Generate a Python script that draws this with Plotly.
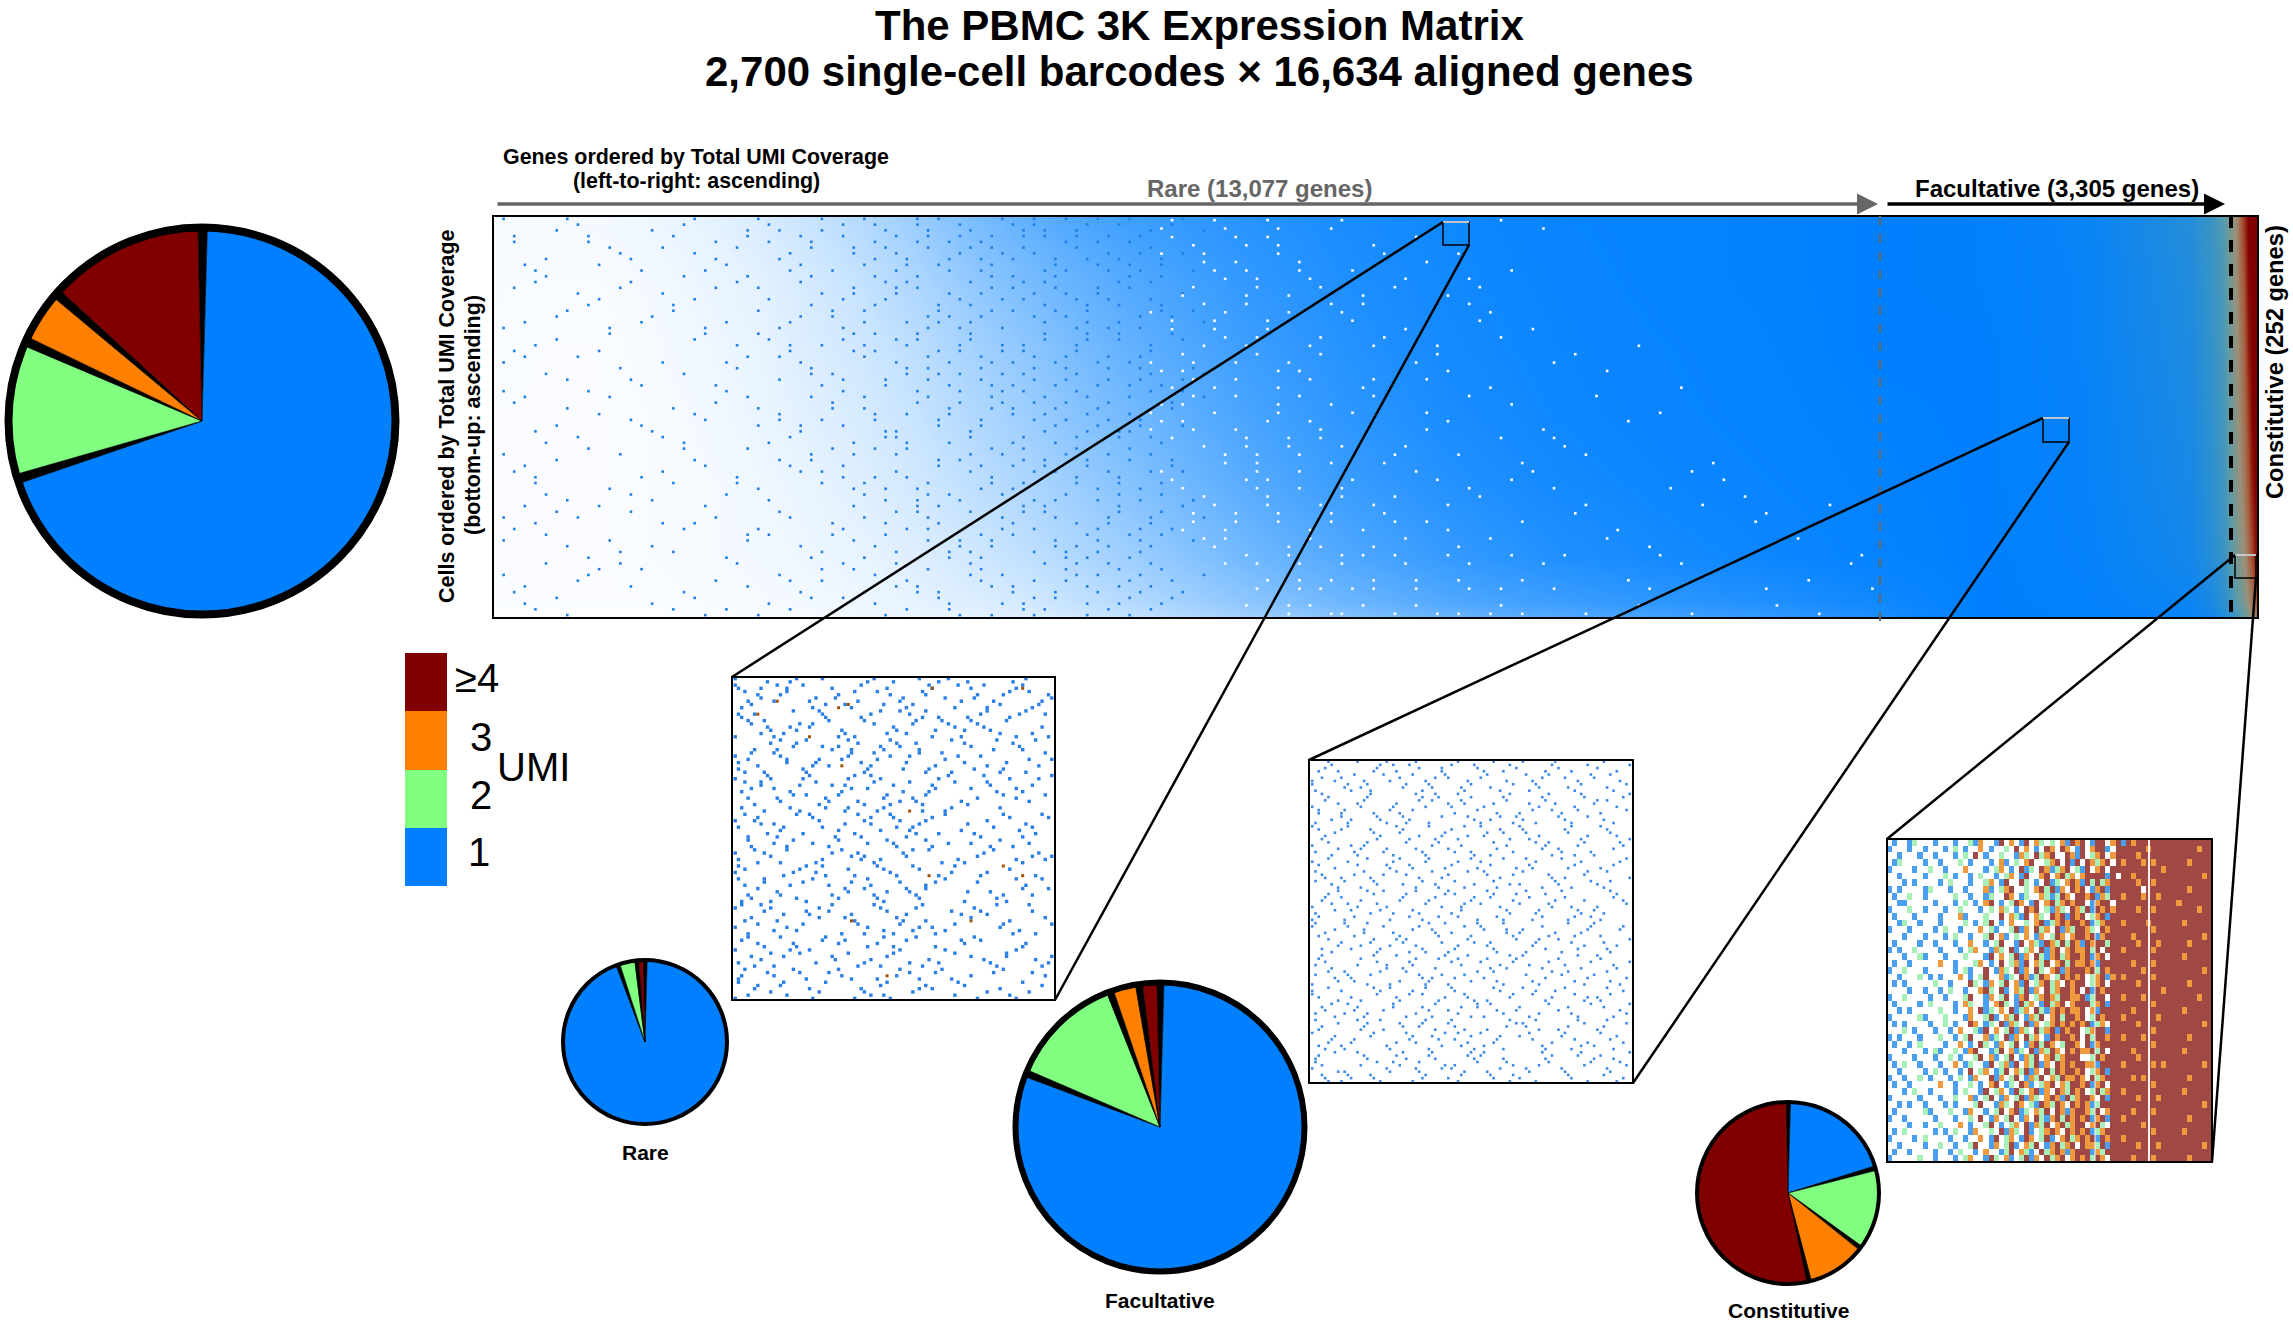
import plotly.graph_objects as go

W, H = 2293, 1325
BLUE, GREEN, ORANGE, RED = "#0080ff", "#80ff80", "#ff8000", "#800000"
UMI_COLORS = [BLUE, GREEN, ORANGE, RED]

# ---------- values ----------
umi_levels = ["1", "2", "3", "≥4"]
all_share = [0.692, 0.108, 0.039, 0.128]
rare_share = [0.950, 0.030, 0.0, 0.009]
facultative_share = [0.801, 0.125, 0.025, 0.016]
constitutive_share = [0.197, 0.139, 0.101, 0.528]
slice_gap = 0.0078

# main matrix: estimated mean colour level per coarse cell (0 empty, 1 all "1 UMI", 3 all "≥4")
gene_rank = [0, 500, 1000, 1500, 2000, 2500, 3000, 3500, 4000, 4500, 5000, 5500, 6000, 6500,
             7000, 7500, 8000, 9000, 10000, 11000, 12000, 13000,
             14000, 15000, 16000, 16200, 16300, 16380, 16440, 16500, 16540, 16580, 16610, 16634]
cell_rank = [0, 100, 400, 900, 1350, 1800, 2300, 2700]
row_0 = [.01, .01, .01, .01, .02, .03, .04, .06, .08, .10, .13, .18, .23, .29, .35, .41, .47, .58, .66, .73, .79, .88,
         1, 1.01, 1.05, 1.12, 1.2, 1.3, 1.45, 1.6, 1.8, 2, 2.1, 2.2]
row_100 = [.02, .02, .02, .02, .03, .04, .05, .07, .10, .13, .17, .23, .29, .36, .43, .50, .57, .68, .76, .82, .87, .93,
           1, 1.02, 1.08, 1.18, 1.28, 1.42, 1.6, 1.8, 2, 2.2, 2.4, 2.6]
row_400 = [.02, .02, .02, .03, .04, .05, .07, .09, .13, .18, .24, .31, .38, .46, .54, .61, .68, .79, .87, .92, .95, .98,
           1, 1.03, 1.13, 1.26, 1.38, 1.58, 1.8, 2, 2.25, 2.55, 2.85, 3]
row_900 = [.02, .02, .02, .03, .04, .06, .09, .13, .18, .25, .32, .40, .48, .56, .64, .71, .77, .86, .92, .95, .97, .99,
           1, 1.04, 1.16, 1.3, 1.42, 1.65, 1.88, 2.15, 2.45, 2.85, 3, 3]
row_1350 = [.02, .02, .02, .03, .05, .08, .12, .16, .22, .30, .38, .47, .55, .63, .70, .76, .82, .90, .94, .965, .98, .995,
            1, 1.04, 1.18, 1.32, 1.45, 1.7, 1.95, 2.25, 2.6, 3, 3, 3]
row_1800 = [.03, .02, .02, .04, .06, .09, .14, .19, .26, .35, .44, .53, .61, .68, .75, .80, .85, .92, .95, .97, .985, 1,
            1, 1.05, 1.2, 1.35, 1.48, 1.75, 2, 2.35, 2.8, 3, 3, 3]
row_2300 = [.03, .03, .03, .05, .08, .11, .17, .24, .33, .43, .53, .61, .68, .74, .80, .84, .88, .93, .96, .98, .99, 1,
            1.01, 1.05, 1.22, 1.38, 1.5, 1.8, 2.05, 2.5, 2.95, 3, 3, 3]
row_2700 = [.04, .04, .05, .07, .10, .15, .22, .30, .40, .52, .62, .70, .76, .80, .84, .87, .90, .94, .97, .98, .99, 1,
            1.01, 1.06, 1.25, 1.4, 1.55, 1.85, 2.1, 2.7, 3, 3, 3, 3]
matrix_levels = [row_0, row_100, row_400, row_900, row_1350, row_1800, row_2300, row_2700]

# NOTE: the dot lists below are hand-typed TEXTURE that follows the density seen in the picture.
# They are far fewer than the real marks and are not dot-accurate positions.
# One list per raster row, top to bottom; x in hundreds of gene ranks.
sparse_rows = [
 [2,9,17,24,29,33,38,41,44,47,50,52,55,58,61,64],[5,13,21,27,36,39,43,46,49,53,56,59,63],[1,7,19,25,31,35,40,42,48,51,54,57,60,65],
 [11,16,23,30,34,37,41,45,47,50,55,62],[4,14,20,28,32,38,43,46,52,54,58,61,66],[8,18,26,33,36,40,44,49,51,56,59,64],
 [3,10,22,29,35,39,42,47,53,57,60,63],[6,15,24,27,31,37,41,45,50,52,55,62,67],[12,19,28,34,38,44,48,51,58,61,65],
 [2,9,21,26,30,36,40,43,46,54,57,60],[7,17,25,32,35,42,47,49,53,56,63,66],[4,13,23,29,37,39,45,50,52,59,62],
 [1,11,20,27,33,41,44,48,55,58,61,64],[8,16,31,34,38,43,46,51,54,57,65],[5,18,24,30,36,40,47,49,53,60,63],
 [3,14,22,28,35,39,42,45,52,56,59,67],[10,19,26,33,37,44,48,50,55,58,62],[6,15,29,32,41,43,46,51,54,61,64],
 [2,12,21,25,34,38,40,47,49,53,57,60,66],[9,17,30,36,42,45,52,56,59,63],[4,23,28,31,35,39,44,48,50,55,62],
 [7,13,27,33,37,41,46,51,54,58,61,65],[1,16,22,29,38,43,47,49,53,57,60],[11,20,25,34,36,40,45,52,56,59,64],
 [5,18,30,32,39,42,44,48,50,55,62,67],[3,8,24,27,35,41,46,51,54,58,61],[14,21,31,37,43,47,49,53,57,60,63],
 [6,19,26,33,38,40,45,52,56,59,65],[2,10,28,34,36,42,44,48,50,55,62],[12,23,30,39,41,46,51,54,58,61,66],
 [7,17,25,32,35,43,47,49,53,57,64],[4,15,29,37,38,45,52,56,59,60],[1,9,22,33,40,44,48,50,55,62,65],
 [13,20,27,31,36,42,46,51,54,58,61],[5,18,26,34,39,43,49,53,57,63],[3,11,24,30,35,41,47,52,56,60,67],
 [8,16,28,37,38,45,50,55,59,62],[2,21,32,40,44,48,51,54,58,64],[6,14,25,29,33,42,46,53,57,61,65],
 [10,19,27,36,39,43,49,52,56,60],[4,17,23,31,35,41,47,50,55,59,63],[1,12,30,34,38,45,48,54,58,62],
 [7,15,26,37,40,44,51,53,57,61,66],[3,20,28,33,42,46,49,52,56,64],[9,18,24,32,36,39,47,50,55,60],
 [5,13,22,35,41,43,48,54,59,63],[2,16,29,31,38,45,51,53,58,62,65],[11,25,34,37,40,46,49,57,61],
 [6,19,27,30,42,44,50,52,56,60,64],[4,14,23,33,36,39,47,55,59],[1,8,21,28,35,41,48,53,58,62,67],
 [12,17,31,38,43,45,51,54,57,61],[5,24,26,32,37,46,49,56,60,63],[3,10,20,34,40,42,50,52,59,65],
 [7,15,29,36,44,47,53,55,58,62],[2,18,25,33,39,41,48,51,57,61,64],[9,22,30,35,43,46,54,56,60],
 [6,13,27,38,40,45,50,52,59,63],[4,16,19,32,37,42,49,55,58,62],[1,11,24,34,41,44,47,53,57,61,66],
 [8,21,28,31,39,46,51,54,60,64],[3,15,26,36,43,48,50,56,59,63],[5,12,23,33,38,45,52,55,58,62],
 [2,18,29,35,40,42,49,53,57,61,65],[7,20,25,37,44,47,51,56,60],[10,14,31,34,41,46,54,59,63],
 [4,17,22,28,39,43,50,52,58,62],[1,9,27,36,45,48,55,57,61,67],[6,19,30,33,42,51,53,60,64],
 [3,13,24,38,40,47,49,56,59,62],
]
gap_rows = [
 [66,71,74,83],[69,72,77,86,92],[64,68,73,80,95],[67,70,76,88],[65,71,75,82,90],[63,69,74,79,99],[66,72,78,85,93],[64,70,73,87],
 [68,71,76,81,96],[63,67,74,84,91],[65,72,78,89,102],[62,69,75,80,94],[66,70,77,83,88],[64,68,73,86,98],[67,71,79,82,92],
 [63,65,74,76,90,105],[69,72,78,84,95],[62,66,70,75,87,100],[64,68,73,81,93],[67,71,77,83,89,108],[63,65,74,79,96],
 [69,72,76,85,91,103],[62,66,70,78,88,99],[64,68,74,82,94,112],[67,71,75,80,86,101],[63,65,73,77,90,107],[69,72,79,84,97,115],
 [66,70,76,83,92,104],[62,68,74,81,88,110],[64,71,75,78,95,100],[67,73,80,85,93,118],[65,69,77,82,90,106],[63,72,76,87,98,113],
 [66,70,74,79,84,102,120],[68,75,78,83,91,109],[64,71,73,81,89,96,116],[67,69,77,86,94,105,123],[65,72,76,80,92,100,111],
 [66,70,74,79,85,88,97,119],[68,73,78,83,90,103,114,126],[71,75,77,82,87,95,108,121],[69,72,76,80,86,92,99,112,128],
 [70,74,78,81,84,89,94,104,117],[73,76,79,83,87,91,97,107,124],[71,75,80,82,85,90,96,101,110,129],
 [74,77,79,84,86,88,93,98,106,115,127],[72,76,78,81,83,87,92,95,100,109,120,130],[75,79,80,85,89,91,94,97,103,113,125],
]

# inset textures (same caveat): one list per raster row, x in percent of the inset width
rare_rows = [
 [2,9,17,31,48,62,74,88],[5,13,24,39,52,71,81,96],[1,20,28,44,58,67,91],[8,15,33,49,60,76,84,98],[3,25,37,54,69,79,93],
 [11,18,42,50,64,73,87],[6,29,35,47,56,83,95],[1,14,22,40,61,70,78,90],[9,26,32,53,66,75,99],[4,17,38,45,59,86,92],
 [12,20,34,51,63,72,80],[2,7,28,43,55,77,89,97],[15,23,36,49,68,82,94],[5,10,30,41,57,65,74,85],[19,27,46,52,60,79,91],
 [1,13,33,38,62,71,88,98],[6,21,25,44,56,67,76],[9,16,35,48,54,83,93],[3,29,40,59,64,73,86],[11,18,24,50,69,78,96],
 [7,14,31,37,47,58,81,90],[2,22,42,53,61,75,84],[5,17,27,34,45,66,92,99],[12,20,39,51,57,72,87],[8,25,30,43,63,79,95],
 [1,15,36,49,55,70,77],[4,10,23,41,60,68,83,91],[19,28,33,46,52,74,89],[6,13,37,44,58,65,97],[2,17,26,40,54,72,85],
 [9,21,31,35,50,62,80,93],[5,14,29,47,56,76,88],[11,24,38,43,67,78,99],[3,18,34,53,61,82,90],[7,27,41,49,59,73],
 [1,12,22,36,46,64,86,95],[15,30,39,52,57,71,92],[4,9,26,44,55,69,79],[19,23,33,48,60,84,97],[6,13,37,42,63,74,88],
 [2,16,28,51,56,81,93],[10,21,35,45,59,66],[5,14,32,40,54,77,90],[8,25,43,50,62,86,98],[3,18,29,36,47,68,83],
 [11,22,38,57,64,75,94],[1,7,27,41,52,60,79],[15,33,46,55,71,89],[4,20,24,39,49,66,84,96],[9,13,35,43,58,73,91],
 [6,17,30,51,62,80,87],[2,23,28,45,56,69],[12,37,41,54,76,93,99],[5,19,33,48,60,83],[8,15,26,44,65,72,90],
 [1,10,31,39,53,78,95],[4,21,36,47,58,86],[13,25,42,50,67,74,92],[7,17,34,56,61,81],[2,28,40,46,70,88,97],
 [10,22,37,52,63,76],[5,15,31,44,57,84,93],[1,19,26,49,68,79],[8,35,41,54,60,90,98],[3,12,23,47,72,85],
 [16,29,38,51,64,77,94],[6,20,33,45,58,82],[2,10,25,42,66,88,96],[14,36,48,55,73,80],[4,18,30,43,60,91],
 [8,22,39,52,69,84,99],[1,12,27,46,57,75],[5,34,41,50,63,87,94],[16,24,37,54,71,79],[3,9,31,44,59,82,92],
 [13,20,47,56,66,89],[6,27,35,51,74,97],[1,17,42,58,62,83],[10,23,30,48,68,77,93],[4,14,38,53,60,86],
 [8,19,33,45,72,91],[2,26,41,55,64,80,98],[12,21,36,50,69,85],[5,15,29,47,57,75],[9,32,43,61,78,94],
 [1,18,24,52,66,88],[7,13,39,46,59,82,96],[3,28,35,54,71,77],[10,20,42,50,63,90],[6,16,31,48,74,85,99],
 [2,23,37,45,58,68],[12,27,41,56,79,92],[4,19,33,52,65,84],[8,15,46,60,72,96],[1,25,38,49,76,88],
 [11,21,30,55,63,81,93],[5,17,43,47,69,86],[3,13,34,51,74,97],[7,24,40,58,62,83],[2,16,29,48,70,90],
]
rare_other_rows = [[62,90],[14],[],[],[33],[],[36],[],[],[],[],[8],[],[],[],[24],[],[],[],[],[],[],[],[],[34],[],[],[],[],[],
 [],[],[],[],[],[],[],[],[],[],[],[55],[],[],[],[],[],[],[],[],[],[84],[],[],[],[],[],[],[],[],[],[],[],[],[],[61,90],[],[],[],[],
 [],[],[],[],[],[],[],[],[],[37,74],[],[],[],[],[],[],[],[],[],[],[],[],[],[],[],[],[],[48],[],[]]

facultative_rows = [
 [3,9,20,27,41,54,60,73,81,95],[1,12,18,30,37,50,63,70,84,98],[6,15,24,33,46,57,66,76,91],[4,10,28,39,43,53,72,79,88],
 [2,13,19,35,48,59,68,82,94],[7,22,26,31,44,51,62,75,86,99],[11,16,29,38,47,56,71,80,92],[5,21,34,41,52,64,77,89],
 [1,8,17,25,36,49,61,69,83,96],[14,23,32,42,55,67,74,87,93],[3,10,20,28,45,58,65,78,90],[6,18,35,40,50,60,72,85,97],
 [2,12,24,30,37,53,63,70,81,94],[9,15,27,43,48,57,68,76,88],[4,19,33,39,46,62,74,84,99],[7,13,22,31,51,56,66,79,91],
 [1,16,26,36,44,54,71,82,95],[10,21,29,41,49,59,64,77,86],[5,17,34,38,47,61,73,89,92],[3,11,25,32,52,69,75,83,98],
 [8,20,28,42,55,60,67,80,93],[2,14,23,35,45,50,63,78,87],[6,18,30,40,57,70,74,85,96],[1,12,27,37,48,53,65,81,90],
 [9,16,24,33,43,58,72,77,94],[4,21,31,39,46,62,68,84,99],[7,15,26,36,51,56,75,82,88],[3,10,19,29,44,59,66,79,92],
 [5,22,34,41,49,54,71,86,95],[1,13,17,38,47,61,73,83,97],[8,25,32,42,52,64,69,80,90],[2,11,20,35,45,57,76,87,93],
 [6,18,28,37,50,60,67,78,98],[4,14,23,30,43,55,63,74,85],[9,16,33,40,48,58,72,81,91],[1,12,26,36,46,53,70,84,96],
 [7,21,29,39,51,62,65,77,89],[3,15,24,31,44,56,68,82,94],[5,10,19,34,41,59,75,79,99],[2,17,27,38,49,54,66,86,92],
 [8,13,22,32,47,61,71,83,88],[6,20,30,42,45,57,64,73,95],[1,11,25,35,52,60,69,80,90],[4,16,28,37,50,63,76,85,97],
 [9,18,23,33,43,55,67,78,93],[3,14,31,40,46,58,72,82,87],[7,12,21,36,48,53,65,74,98],[2,19,26,34,44,62,70,84,91],
 [5,10,29,39,51,56,68,79,94],[1,15,24,41,47,59,75,81,89],[8,17,32,38,54,61,66,86,96],[4,13,22,35,45,57,73,83,92],
 [6,20,27,30,49,64,71,77,99],[2,11,18,37,42,52,60,80,88],[9,16,25,33,46,55,69,85,95],[3,14,28,40,50,63,74,82,90],
 [7,21,31,36,43,58,67,78,93],[1,12,23,34,48,53,72,87,97],[5,17,26,39,44,61,65,76,84],[10,19,29,41,51,56,70,81,91],
 [2,15,24,32,47,59,68,79,94],[8,13,35,38,45,54,73,86,98],[4,20,27,42,49,62,66,83,89],[6,11,22,30,52,57,75,80,92],
 [1,18,25,36,43,60,71,85,96],[3,16,33,40,46,55,64,77,90],[9,14,28,37,50,58,69,82,93],[5,21,31,44,53,63,74,87,99],
 [2,12,19,34,41,48,67,78,88],[7,24,29,39,56,61,72,84,95],[4,15,26,35,47,52,65,80,91],[1,10,22,32,45,59,70,76,97],
 [8,17,30,38,50,54,68,83,94],[3,13,27,42,49,62,75,86,89],[6,20,25,36,44,57,66,79,92],[2,11,18,33,46,60,71,81,98],
 [9,16,28,40,51,55,73,85,90],[5,14,23,37,43,58,64,77,96],[1,21,31,35,48,63,69,82,93],[7,12,26,39,52,56,74,87,99],
 [4,17,29,34,45,61,67,80,91],[3,10,24,41,47,54,72,84,88],[8,19,32,38,50,59,65,78,95],[2,15,22,36,44,62,70,83,92],
 [6,13,27,33,49,57,75,86,97],[1,20,30,42,46,53,68,79,90],[5,11,25,37,51,60,73,81,94],[9,18,28,35,43,64,66,85,98],
 [3,16,23,39,48,55,71,77,89],[7,14,31,40,45,58,69,82,93],[2,21,26,34,52,61,74,87,96],[4,12,19,36,47,56,63,80,91],
 [8,15,29,38,50,54,72,84,99],[1,24,33,41,44,59,67,78,92],[6,10,22,32,46,62,70,86,95],[3,17,27,37,49,53,75,83,90],
 [5,13,20,35,43,57,65,81,97],[2,18,30,39,51,60,73,88,94],[9,11,25,34,48,55,68,79,93],[4,16,28,42,45,63,71,85,98],
]

# constitutive inset texture (same caveat): UMI class per coarse cell as rows of digits (0 = empty)
constitutive_rows = [
 "0100120001000100213001403014032020314340144034143444044404444444",
 "1000100100010201003010020403010430430140344104444443404440444344",
 "0010001001000102040100200132042340043140234034444344440444444444",
 "0120000100100020100010310203400234041404323404344434344044434444",
 "1000010020010003000102301041204312340214034044444444043404444444",
 "0010000100020100102001023014003403423034444140443444444044444434",
 "0001010000102000100230140042010412034314242344444344304444444444",
 "1010000120001001000310234002034241304340134144444404444404434444",
 "0100200100000200100120043012003212430443413244344434034404444444",
 "0011000001000102010340102430140342343440134404444444444043444444",
 "1000200100010020001020320104340213204324143434444344344044444344",
 "0100010000100031000200403214032043414340234144444444444404444444",
 "0012001000100002010240103002034123434434123444344443404044344444",
 "1000100001020010003021002413042304132443204344444444344404444444",
 "0001000100010200100240310203013024303443413444443444444044444434",
 "0100001001000100300102400140321432424314344244444344434404434444",
 "1010020000100010230013204102304134034334240444344444344044444444",
 "0001002100010002000140302413042134234434134044444444444404344444",
 "0100100000300100023010402314032403424334314444443444304044444444",
 "1002000100000102100401320413042034134443424344444434444404444434",
 "0010002010100030102400312043124302434340234134344444344444444444",
 "0101000002001000420130240314023423043440234044444344444044434444",
 "0000100100102001003420410324130423443404143444444444043404444444",
 "1002000010010002400130240134023432443341244044344434444044444344",
 "0100001020000103200103420142301423403444234144444444344404444444",
 "0010100000200100304120304123042134343340314444443444444044344444",
 "1000002100020001300241032401324034244340243444344444430444444444",
 "0101000010020100430120413204130234343434123044444344444404444434",
 "0002010001001030021403024132042341434402344144444444344044444444",
 "1010001000200102400312041304230143443404244344344434444404434444",
 "0100102000010030104201302401342430244304134444444444304444444444",
 "0001000102100201340012403120413243043433424044443444444044344444",
 "1000010001002010024031024013240342344400243444444344444404444444",
 "0102001000100301200140231403241304343443314444344444343044444434",
 "0010000102010010402301240324130424344340234144444444444404444444",
 "1001002010001020130041302401324032433430423444443434444044434444",
 "0100100000300100201034012043102340324434134044444444344404444444",
 "0001020010000102001402301420341304324340242344344444444044344444",
 "1000001000100200310240130241320343142344304144444344434404444444",
 "0010100100010100024001320430214324304343124444444444444044444434",
 "0100000210002001300102403412032404313443240344443444340444444444",
 "1001000001000100204013024013042134243434134144344444444404434444",
 "0000100100200030100240102304132403423440342044444434444044444444",
 "0102000001010200130020413204102343043434123444444444344404344444",
 "1000010200001001003014023014302410342343414344344444444044444444",
 "0010000100200100240013024103240134234043324144444344434404444434",
 "0100100001001020010300124032104234313444132444444444444044444444",
 "1000002001000102300142031024130423403434243044443444344404434444",
]

legend_levels = [[1], [2], [3], [4]]

# hand-typed local reorderings of raster rows, used only to break up the texture's diagonal look
texture_blocks = [[3, 7, 0, 5, 9, 1, 8, 2, 6, 4], [6, 1, 9, 3, 0, 8, 4, 7, 2, 5], [2, 8, 5, 0, 7, 4, 9, 1, 3, 6]]

# ---------- helpers: pixel box of the picture -> paper fractions ----------
def fx(px):
    return px / W
def fy(py):
    return 1 - py / H

main_box = (493, 216, 2258, 618)
rare_box = (732, 677, 1055, 1000)
fac_box = (1309, 760, 1633, 1083)
con_box = (1887, 839, 2212, 1162)
legend_box = (405, 653, 447, 886)

def dom(box):
    return dict(domain=[fx(box[0]), fx(box[2])]), dict(domain=[fy(box[3]), fy(box[1])])

def raster_points(rows):
    xs, ys = [], []
    for i, row in enumerate(rows):
        block = texture_blocks[(i // 10) % 3]
        slot = (i // 10) * 10 + block[i % 10]
        for x in row:
            xs.append(x)
            ys.append(100 * (slot + 0.5) / len(rows))
    return xs, ys

fig = go.Figure()

level_scale = [[0, "#ffffff"], [1/3, BLUE], [1.3/3, "#2d90d0"], [1.6/3, "#5a9ca8"],
               [2/3, "#9a9078"], [2.5/3, "#a85030"], [1, RED]]
fig.add_trace(go.Heatmap(x=gene_rank, y=cell_rank, z=matrix_levels, zmin=0, zmax=3, zsmooth="best",
                         colorscale=level_scale, showscale=False, hoverinfo="skip", xaxis="x", yaxis="y"))

sx, sy = raster_points(sparse_rows)
fig.add_trace(go.Scatter(x=[v * 100 for v in sx], y=[2700 * (1 - v / 100) for v in sy], mode="markers",
                         hoverinfo="skip", xaxis="x", yaxis="y",
                         marker=dict(symbol="square", size=2.6, color="#1f7fe8", line=dict(width=0))))
gx, gy = raster_points(gap_rows)
fig.add_trace(go.Scatter(x=[v * 100 for v in gx], y=[2700 * (1 - v / 100) for v in gy], mode="markers",
                         hoverinfo="skip", xaxis="x", yaxis="y",
                         marker=dict(symbol="square", size=2.6, color="#ffffff", line=dict(width=0))))

rx, ry = raster_points(rare_rows)
fig.add_trace(go.Scatter(x=rx, y=ry, mode="markers", xaxis="x2", yaxis="y2", hoverinfo="skip",
                         marker=dict(symbol="square", size=3.4, color="#2a7fe6", line=dict(width=0))))
rx2, ry2 = raster_points(rare_other_rows)
fig.add_trace(go.Scatter(x=rx2, y=ry2, mode="markers", xaxis="x2", yaxis="y2", hoverinfo="skip",
                         marker=dict(symbol="square", size=3, color="#a05000", line=dict(width=0))))
fx_, fy_ = raster_points(facultative_rows)
fig.add_trace(go.Scatter(x=fx_, y=fy_, mode="markers", xaxis="x3", yaxis="y3", hoverinfo="skip",
                         marker=dict(symbol="square", size=2.6, color="#3d8ae8", line=dict(width=0))))

# the right-hand block of the inset has no empty cells except the white stripes drawn as shapes below
con_z = [[4 if (j >= 52 and c == "0") else int(c) for j, c in enumerate(r)] for r in constitutive_rows]
con_scale = [[0, "#ffffff"], [0.2, "#ffffff"], [0.2, "#4b9ff0"], [0.4, "#4b9ff0"], [0.4, "#a8f0b8"], [0.6, "#a8f0b8"],
             [0.6, "#f09a40"], [0.8, "#f09a40"], [0.8, "#a04844"], [1, "#a04844"]]
fig.add_trace(go.Heatmap(z=con_z, zmin=-0.5, zmax=4.5, colorscale=con_scale, showscale=False,
                         hoverinfo="skip", xaxis="x4", yaxis="y4"))

leg_scale = []
for i, c in enumerate(UMI_COLORS):
    leg_scale += [[i / 4, c], [(i + 1) / 4, c]]
fig.add_trace(go.Heatmap(z=legend_levels, zmin=0.5, zmax=4.5, colorscale=leg_scale, showscale=False,
                         hoverinfo="skip", xaxis="x5", yaxis="y5"))

pies = [(all_share, 202, 421, 193.5), (rare_share, 645, 1042, 82),
        (facultative_share, 1160, 1127, 144.5), (constitutive_share, 1788, 1193, 91)]
for vals, cx, cy, r in pies:
    v, c, lab = [], [], []
    for share, col, name in zip(vals, UMI_COLORS, umi_levels):
        if share > 0:
            v += [slice_gap, share]
            c += ["black", col]
            lab += ["gap " + name, name]
    fig.add_trace(go.Pie(values=v, labels=lab, sort=False, direction="clockwise", rotation=-1.2,
                         marker=dict(colors=c, line=dict(color="black", width=0.6)),
                         textinfo="none", hoverinfo="skip", showlegend=False,
                         domain=dict(x=[fx(cx - r), fx(cx + r)], y=[fy(cy + r), fy(cy - r)])))

# ---------- layout furniture ----------
shapes = []
def seg(x0, y0, x1, y1, color="black", width=2.5, dash="solid"):
    shapes.append(dict(type="line", xref="paper", yref="paper", x0=fx(x0), y0=fy(y0), x1=fx(x1), y1=fy(y1),
                       line=dict(color=color, width=width, dash=dash)))
def rect(box, width=2, color="black"):
    shapes.append(dict(type="rect", xref="paper", yref="paper", x0=fx(box[0]), y0=fy(box[1]), x1=fx(box[2]), y1=fy(box[3]),
                       line=dict(color=color, width=width)))
def ring(cx, cy, r, width):
    shapes.append(dict(type="circle", xref="paper", yref="paper", x0=fx(cx - r), x1=fx(cx + r), y0=fy(cy + r), y1=fy(cy - r),
                       line=dict(color="black", width=width)))

seg(2149, 839, 2149, 1162, "#fff4f0", 2)
seg(2095, 900, 2095, 1162, "#fff4f0", 1)
rect(main_box, 2)
rect(rare_box, 2)
rect(fac_box, 2)
rect(con_box, 2)
ring(202, 421, 193.5, 8)
ring(645, 1042, 82, 4)
ring(1160, 1127, 144.5, 6)
ring(1788, 1193, 91, 4)

seg(1880, 216, 1880, 624, "#666666", 2, "dash")
seg(2231, 216, 2231, 624, "black", 4, "dash")

for box, inset in [((1443, 222, 1469, 245), rare_box),
                   ((2043, 418, 2069, 442), fac_box),
                   ((2235, 555, 2256, 578), con_box)]:
    rect(box, 1.5)
    seg(box[0], box[1], box[2], box[1], "white", 1.5)
    seg(box[0], box[1], inset[0], inset[1])
    seg(box[2], box[3], inset[2], inset[3])

B = "Liberation Sans"
def note(x, y, text, size, color="black", bold=True, angle=0):
    t = f"<b>{text}</b>" if bold else text
    return dict(xref="paper", yref="paper", x=fx(x), y=fy(y), text=t, showarrow=False, textangle=angle,
                xanchor="center", yanchor="middle", font=dict(family=B, size=size, color=color))
def arrow(x0, x1, y, color):
    return dict(xref="paper", yref="paper", axref="pixel", ayref="pixel", x=fx(x1), y=fy(y), ax=x0 - x1, ay=0,
                text="", showarrow=True, arrowhead=2, arrowsize=1.2, arrowwidth=3.5, arrowcolor=color)

annotations = [
    note(1199, 26, "The PBMC 3K Expression Matrix", 42),
    note(1199, 72, "2,700 single-cell barcodes × 16,634 aligned genes", 42),
    note(696, 157, "Genes ordered by Total UMI Coverage", 21.4),
    note(696, 181, "(left-to-right: ascending)", 21.4),
    note(1259, 188, "Rare (13,077 genes)", 24, "#666666"),
    note(2057, 188, "Facultative (3,305 genes)", 24),
    note(447, 416, "Cells ordered by Total UMI Coverage", 21.5, angle=-90),
    note(473, 415, "(bottom-up: ascending)", 21.5, angle=-90),
    note(2275, 362, "Constitutive (252 genes)", 23.7, angle=-90),
    note(645, 1152, "Rare", 21),
    note(1160, 1300, "Facultative", 21),
    note(1788, 1310, "Constitutive", 21),
    note(477, 678, "≥4", 40, bold=False),
    note(481, 737, "3", 40, bold=False),
    note(481, 795, "2", 40, bold=False),
    note(479, 852, "1", 40, bold=False),
    note(533, 767, "UMI", 40, bold=False),
    arrow(496, 1878, 204, "#666666"),
    arrow(1886, 2225, 204, "black"),
]

hidden = dict(visible=False, showgrid=False, zeroline=False, fixedrange=True)
def axes(box, xr=None, yr=None):
    xa, ya = dom(box)
    xa.update(hidden); ya.update(hidden)
    if xr: xa["range"] = xr
    if yr: ya["range"] = yr
    return xa, ya

x1, y1 = axes(main_box, [0, 16634], [0, 2700])
x2, y2 = axes(rare_box, [0, 100], [100, 0])
x3, y3 = axes(fac_box, [0, 100], [100, 0])
x4, y4 = axes(con_box, None, [len(constitutive_rows) - 0.5, -0.5])
x5, y5 = axes(legend_box)

fig.update_layout(
    width=W, height=H, margin=dict(l=0, r=0, t=0, b=0), paper_bgcolor="white", plot_bgcolor="white",
    showlegend=False, shapes=shapes, annotations=annotations,
    xaxis=x1, yaxis=y1, xaxis2=x2, yaxis2=y2, xaxis3=x3, yaxis3=y3, xaxis4=x4, yaxis4=y4, xaxis5=x5, yaxis5=y5,
)
for i, ax in enumerate(["x2", "x3", "x4", "x5"]):
    fig.layout[f"yaxis{i+2}"].anchor = ax
    fig.layout[f"xaxis{i+2}"].anchor = f"y{i+2}"

fig.write_html("out.html", config=dict(displayModeBar=False),
               post_script="document.body.style.margin='0';document.body.style.overflow='hidden';")
